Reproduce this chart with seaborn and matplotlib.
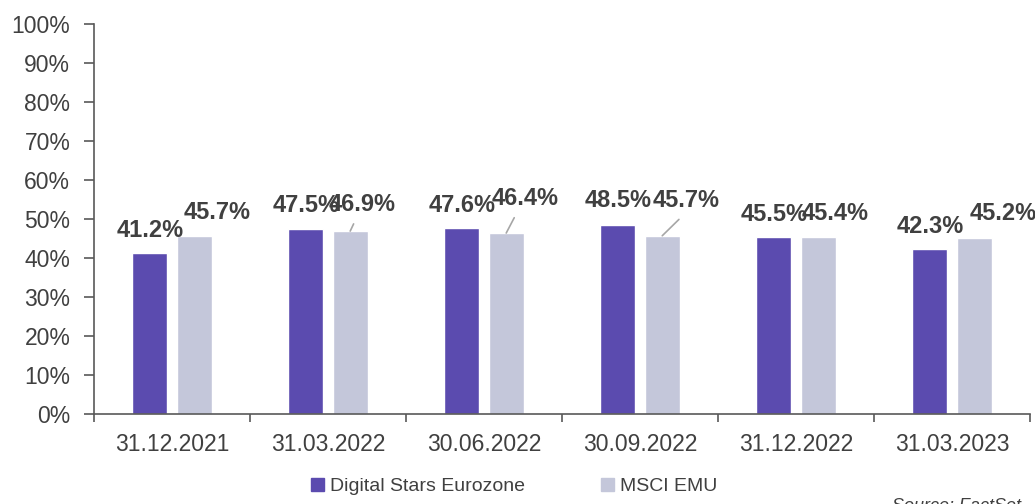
import pandas as pd
import matplotlib
matplotlib.use('Agg')
import matplotlib.pyplot as plt
from matplotlib.patches import Patch
from matplotlib.ticker import MultipleLocator, PercentFormatter
import numpy as np
import seaborn as sns

dates = ['31.12.2021', '31.03.2022', '30.06.2022', '30.09.2022', '31.12.2022', '31.03.2023']
series_names = ['Digital Stars Eurozone', 'MSCI EMU']
digital_stars = [41.2, 47.5, 47.6, 48.5, 45.5, 42.3]
msci_emu = [45.7, 46.9, 46.4, 45.7, 45.4, 45.2]

df = pd.DataFrame({
    'date': dates + dates,
    'value': digital_stars + msci_emu,
    'series': [series_names[0]] * len(dates) + [series_names[1]] * len(dates),
})

colors = ['#5B4BAF', '#C4C7DA']
axis_col = '#595959'
text_col = '#404040'

sns.set_style('white')
plt.rcParams['font.family'] = ['Liberation Sans', 'DejaVu Sans']

fig = plt.figure(figsize=(10.35, 5.04), dpi=100)
ax = fig.add_axes([0.0908, 0.1786, 0.9044, 0.7738])

sns.barplot(data=df, x='date', y='value', hue='series', palette=colors,
            width=0.57, gap=0.22, saturation=1, legend=False, ax=ax)

ax.set_xlim(-0.5, 5.5)
ax.set_ylim(0, 100)
ax.set_xlabel('')
ax.set_ylabel('')
ax.yaxis.set_major_locator(MultipleLocator(10))
ax.yaxis.set_major_formatter(PercentFormatter(decimals=0))

for s in ['top', 'right']:
    ax.spines[s].set_visible(False)
for s in ['left', 'bottom']:
    ax.spines[s].set_color(axis_col)
    ax.spines[s].set_linewidth(1.2)

ax.tick_params(axis='y', left=True, length=7, width=1.2, color=axis_col, pad=10,
               labelsize=16.5, labelcolor=text_col)
ax.set_xticks(np.arange(-0.5, 6, 1), minor=True)
ax.tick_params(axis='x', which='major', length=0, pad=14, labelsize=16.5, labelcolor=text_col)
ax.tick_params(axis='x', which='minor', bottom=True, length=6, width=1.2, color=axis_col)

# data labels (offsets in pixels, some with leader lines like the original)
ds_offsets = [(0, 23), (0, 23), (0, 23), (0, 24), (0, 22), (0, 23)]
msci_offsets = [(23, 23), (12, 27), (19, 35), (24, 35), (17, 23), (29, 24)]
msci_leader = [False, True, True, True, False, False]
msci_relpos = [0.5, 0.43, 0.4, 0.5, 0.5, 0.5]

for bar, off in zip(ax.containers[0], ds_offsets):
    x = bar.get_x() + bar.get_width() / 2
    v = bar.get_height()
    ax.annotate(f'{v:.1f}%', xy=(x, v), xytext=off, textcoords='offset pixels',
                ha='center', va='center', fontsize=17, fontweight='bold', color=text_col)

for bar, off, lead, rp in zip(ax.containers[1], msci_offsets, msci_leader, msci_relpos):
    x = bar.get_x() + bar.get_width() / 2
    v = bar.get_height()
    arrow = None
    if lead:
        arrow = dict(arrowstyle='-', color='#A6A6A6', lw=1.2, shrinkA=4, shrinkB=0,
                     relpos=(rp, 0))
    ax.annotate(f'{v:.1f}%', xy=(x, v), xytext=off, textcoords='offset pixels',
                ha='center', va='center', fontsize=17, fontweight='bold', color=text_col,
                arrowprops=arrow)

handles = [Patch(color=c) for c in colors]
fig.legend(handles, series_names, loc='center left', bbox_to_anchor=(0.3, 0.034), ncol=2,
           frameon=False, handlelength=0.7, handleheight=0.6, handletextpad=0.3,
           columnspacing=3.9, borderpad=0, borderaxespad=0,
           prop={'size': 14}, labelcolor=text_col)

fig.text(0.862, 0.012, 'Source: FactSet', ha='left', va='top', fontsize=13,
         style='italic', color=text_col)

fig.savefig('out.png', dpi=100)
